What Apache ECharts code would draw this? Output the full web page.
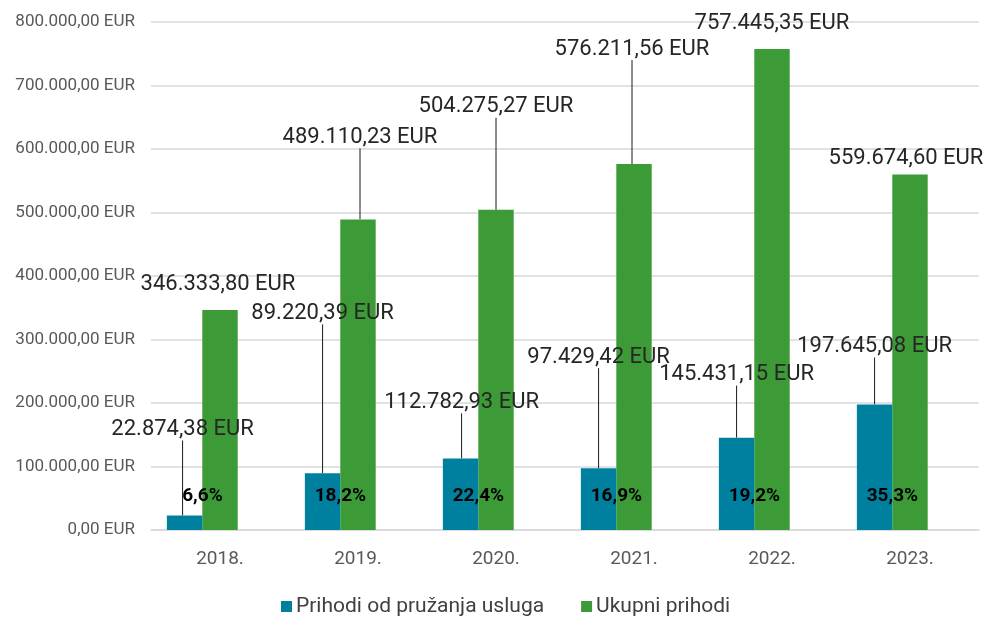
<!DOCTYPE html>
<html>
<head>
<meta charset="utf-8">
<script src="https://cdn.jsdelivr.net/npm/echarts@6/dist/echarts.min.js"></script>
<style>
html,body{margin:0;padding:0;background:#fff;}
#chart{width:990px;height:617px;}
</style>
</head>
<body>
<div id="chart"></div>
<script>
const years = ['2018.', '2019.', '2020.', '2021.', '2022.', '2023.'];
const serviceIncome = [22874.38, 89220.39, 112782.93, 97429.42, 145431.15, 197645.08];
const totalIncome = [346333.80, 489110.23, 504275.27, 576211.56, 757445.35, 559674.60];
const sharePercent = [6.6, 18.2, 22.4, 16.9, 19.2, 35.3];

// pomaci natpisa (kao rucno pomaknuti natpisi u Excelu)
const serviceLabelShift = [[-2, -70], [0, -144], [1, -40], [0, -95], [0, -47], [0, -42]];
const totalLabelShift = [[-2, -10], [2, -66], [0, -87], [-2, -99], [0, -10], [-4, 0]];

const FONT = 'Roboto';

function fmtEur(v, dec) {
    const parts = v.toFixed(dec).split('.');
    const int = parts[0].replace(/\B(?=(\d{3})+(?!\d))/g, '.');
    return int + (dec ? ',' + parts[1] : '') + ' EUR';
}

// vodilica samo kad je natpis stvarno odmaknut od stupca
function withGuides(values, shifts) {
    return values.map((v, i) => ({
        value: v,
        labelLine: {show: shifts[i][1] < -20}
    }));
}

const chart = echarts.init(document.getElementById('chart'));

const valueLabel = {
    show: true,
    position: 'top',
    distance: 5,
    fontFamily: FONT,
    fontSize: 22,
    color: '#262626',
    formatter: p => fmtEur(p.value, 2)
};
const guide = {
    show: true,
    smooth: false,
    lineStyle: {color: '#1a1a1a', width: 1}
};

chart.setOption({
    animation: false,
    textStyle: {fontFamily: FONT},
    grid: {left: 151, right: 11, top: 22, bottom: 87, containLabel: false},
    legend: {
        data: ['Prihodi od pružanja usluga', 'Ukupni prihodi'],
        left: 276,
        top: 591,
        icon: 'rect',
        itemWidth: 11,
        itemHeight: 11,
        itemGap: 37,
        textStyle: {fontFamily: FONT, fontSize: 21, color: '#404040', padding: [0, 0, 0, -1]}
    },
    xAxis: {
        type: 'category',
        data: years,
        axisTick: {show: false},
        axisLine: {lineStyle: {color: '#d9d9d9', width: 1.5}},
        axisLabel: {fontFamily: FONT, fontSize: 19, color: '#595959', margin: 20}
    },
    yAxis: [{
        type: 'value',
        min: 0,
        max: 800000,
        interval: 100000,
        axisLine: {show: false},
        axisTick: {show: false},
        splitLine: {lineStyle: {color: '#d9d9d9', width: 1.5}},
        axisLabel: {
            fontFamily: FONT, fontSize: 17, color: '#595959', margin: 16,
            formatter: v => fmtEur(v, 2)
        }
    }, {
        type: 'value',
        min: 0,
        max: 100,
        show: false
    }],
    series: [{
        name: 'Prihodi od pružanja usluga',
        type: 'bar',
        data: withGuides(serviceIncome, serviceLabelShift),
        barGap: '0%',
        barCategoryGap: '23%',
        itemStyle: {color: '#00809f'},
        label: valueLabel,
        labelLine: guide,
        labelLayout: p => ({dx: serviceLabelShift[p.dataIndex][0], dy: serviceLabelShift[p.dataIndex][1]}),
        z: 3
    }, {
        name: 'Ukupni prihodi',
        type: 'bar',
        data: withGuides(totalIncome, totalLabelShift),
        itemStyle: {color: '#3c9b37'},
        label: valueLabel,
        labelLine: guide,
        labelLayout: p => ({dx: totalLabelShift[p.dataIndex][0], dy: totalLabelShift[p.dataIndex][1]}),
        z: 2
    }, {
        name: 'Udio',
        type: 'bar',
        yAxisIndex: 1,
        data: sharePercent,
        itemStyle: {color: 'rgba(0,0,0,0)'},
        label: {
            show: true,
            position: 'insideBottom',
            offset: [-53, -19],
            fontFamily: FONT,
            fontSize: 19,
            fontWeight: 'bold',
            color: '#000',
            formatter: p => p.value.toFixed(1).replace('.', ',') + '%'
        },
        z: 5
    }]
});
</script>
</body>
</html>
